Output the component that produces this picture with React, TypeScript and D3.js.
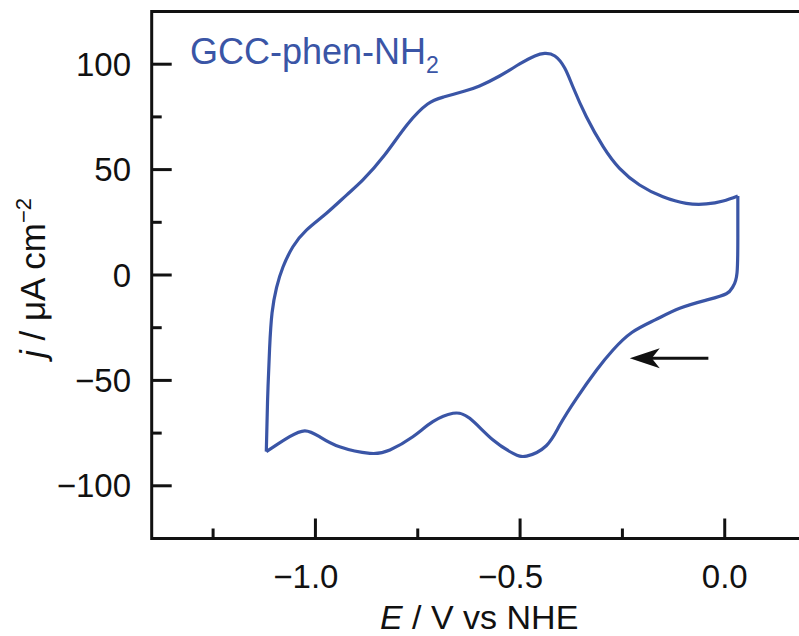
import React, { useEffect, useRef } from 'react';
import * as d3 from 'd3';

// cathodic sweep: from the positive vertex down to -1.12 V
const cathodicE = [0.032, 0.032, 0.030, 0.020, 0.004, -0.045, -0.110, -0.170, -0.227, -0.273, -0.313, -0.362, -0.403, -0.436, -0.484, -0.517, -0.566, -0.623, -0.664, -0.713, -0.762, -0.818, -0.867, -0.941, -0.990, -1.026, -1.063, -1.095, -1.120];
const cathodicJ = [37.5, 19.8, 1.0, -5.5, -8.9, -11.9, -15.8, -21.3, -27.3, -35.6, -45.1, -58.5, -71.2, -81.0, -85.9, -84.6, -78.3, -68.0, -65.6, -69.6, -76.7, -83.0, -84.6, -81.5, -76.7, -73.9, -76.7, -80.6, -83.8];
// anodic sweep back to the start
const anodicE = [-1.120, -1.117, -1.112, -1.106, -1.095, -1.079, -1.055, -1.022, -0.973, -0.924, -0.884, -0.831, -0.775, -0.726, -0.687, -0.635, -0.599, -0.550, -0.501, -0.464, -0.440, -0.415, -0.391, -0.371, -0.338, -0.297, -0.257, -0.208, -0.151, -0.094, -0.045, -0.004, 0.032];
const anodicJ = [-83.8, -60.0, -35.0, -18.0, -6.0, 3.9, 13.4, 21.3, 29.3, 37.9, 45.1, 56.9, 71.5, 81.1, 84.4, 87.3, 89.7, 94.4, 100.1, 103.9, 105.1, 103.9, 98.2, 89.3, 75.1, 60.9, 50.6, 42.7, 37.1, 34.0, 33.7, 35.1, 37.5];

const xMajor = [-1.0, -0.5, 0.0];
const xMinor = [-1.25, -0.75, -0.25];
const yMajor = [-100, -50, 0, 50, 100];
const yMinor = [-75, -25, 25, 75];
// scan direction arrow (tail, head)
const arrowE = [-0.04, -0.232];
const arrowJ = [-39.5, -39.5];

const BLUE = '#3a55a6';
const FONT = '"Liberation Sans", Arial, sans-serif';

const App = () => {
	const ref = useRef<SVGGElement>(null);
	const x = d3.scaleLinear().domain([-1.4, 0.2]).range([151.7, 806.6]);
	const y = d3.scaleLinear().domain([-125, 125]).range([538.5, 11.5]);
	const line = d3
		.line<[number, number]>()
		.x((d) => x(d[0]))
		.y((d) => y(d[1]))
		.curve(d3.curveNatural);

	useEffect(() => {
		const g = d3.select(ref.current);
		g.selectAll('*').remove();
		const branches = [
			cathodicE.map((e, i) => [e, cathodicJ[i]] as [number, number]),
			anodicE.map((e, i) => [e, anodicJ[i]] as [number, number]),
		];
		g.selectAll('path.cv')
			.data(branches)
			.enter()
			.append('path')
			.attr('class', 'cv')
			.attr('d', (d) => line(d))
			.attr('fill', 'none')
			.attr('stroke', BLUE)
			.attr('stroke-width', 3.2)
			.attr('stroke-linejoin', 'round');
	}, []);

	const x0 = x.range()[0];
	const yb = y.range()[0];
	const yt = y.range()[1];
	const ax0 = x(arrowE[0]);
	const ax1 = x(arrowE[1]);
	const ay = y(arrowJ[0]);

	return (
		<svg width={799} height={636} style={{ position: 'absolute', left: 0, top: 0 }} fontFamily={FONT}>
			<rect width={799} height={636} fill="#fff" />
			<g ref={ref} />
			{/* frame */}
			<path d={`M${x.range()[1]},${yt}H${x0}V${yb}H${x.range()[1]}`} fill="none" stroke="#111" strokeWidth={3} />
			{xMajor.map((v) => (
				<line key={'xM' + v} x1={x(v)} x2={x(v)} y1={yb} y2={yb - 20} stroke="#111" strokeWidth={3} />
			))}
			{xMinor.map((v) => (
				<line key={'xm' + v} x1={x(v)} x2={x(v)} y1={yb} y2={yb - 10} stroke="#111" strokeWidth={3} />
			))}
			{yMajor.map((v) => (
				<line key={'yM' + v} x1={x0} x2={x0 + 20} y1={y(v)} y2={y(v)} stroke="#111" strokeWidth={3} />
			))}
			{yMinor.map((v) => (
				<line key={'ym' + v} x1={x0} x2={x0 + 10} y1={y(v)} y2={y(v)} stroke="#111" strokeWidth={3} />
			))}
			{xMajor.map((v) => (
				<text key={'xl' + v} x={x(v)} y={588} dx={v < 0 ? '-0.29em' : 0} textAnchor="middle" fontSize={33} fill="#111">
					{d3.format('.1f')(v).replace('-', '\u2212')}
				</text>
			))}
			{yMajor.map((v) => (
				<text key={'yl' + v} x={131} y={y(v)} dy="0.35em" textAnchor="end" fontSize={33} fill="#111">
					{String(v).replace('-', '\u2212')}
				</text>
			))}
			<text x={(x0 + x.range()[1]) / 2} y={629} textAnchor="middle" fontSize={34} fill="#111">
				<tspan fontStyle="italic">E</tspan> / V vs NHE
			</text>
			<text transform={`translate(45,${(yt + yb) / 2 + 3}) rotate(-90)`} textAnchor="middle" fontSize={35} fill="#111">
				<tspan fontStyle="italic">j</tspan> / μA cm<tspan dy={-14} fontSize={22}>−2</tspan>
			</text>
			<text x={190} y={64} fontSize={36} fill={BLUE}>
				GCC-phen-NH<tspan dy={9} fontSize={23}>2</tspan>
			</text>
			{/* arrow */}
			<line x1={ax0} x2={ax1 + 20} y1={ay} y2={ay} stroke="#111" strokeWidth={3} />
			<path d={`M${ax1},${ay}L${ax1 + 30},${ay - 10}L${ax1 + 22},${ay}L${ax1 + 30},${ay + 10}Z`} fill="#111" />
		</svg>
	);
};

export default App;
